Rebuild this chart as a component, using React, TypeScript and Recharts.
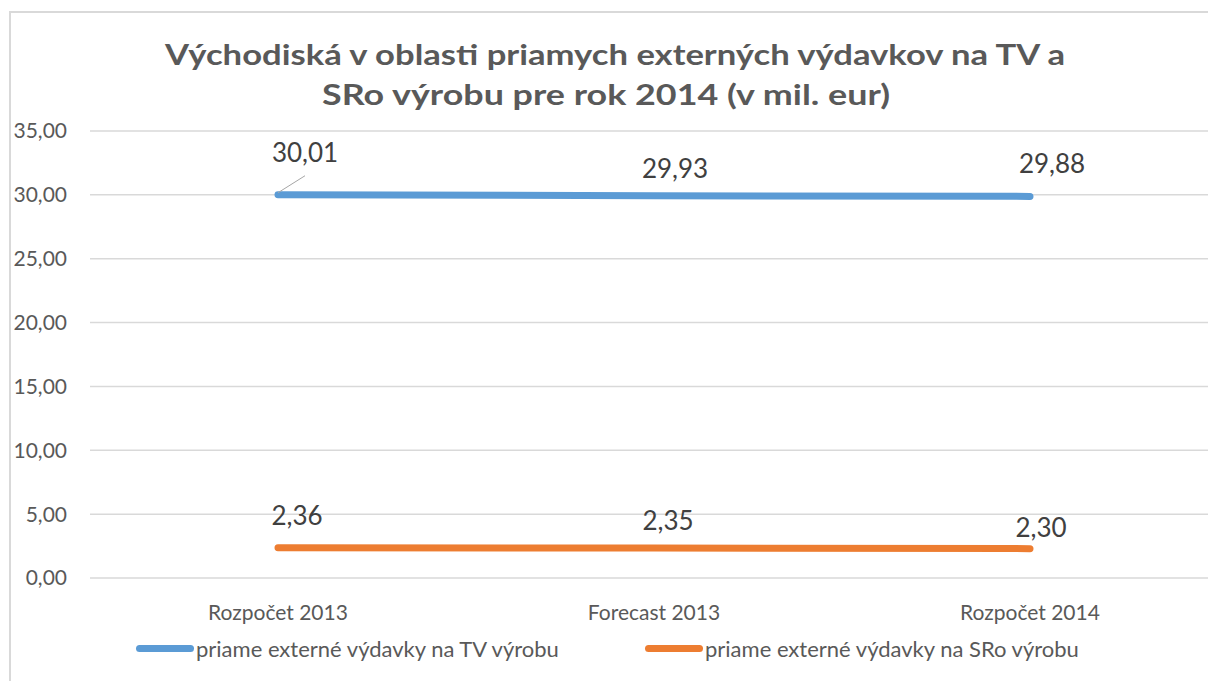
import React from "react";
import { LineChart, Line, XAxis, YAxis, CartesianGrid, Legend } from "recharts";

const categories = ["Rozpočet 2013", "Forecast 2013", "Rozpočet 2014"];
const tvValues = [30.01, 29.93, 29.88];
const sroValues = [2.36, 2.35, 2.3];
const yTicks = [0, 5, 10, 15, 20, 25, 30, 35];
const seriesNames = [
  "priame externé výdavky na TV výrobu",
  "priame externé výdavky na SRo výrobu",
];
const titleLines = [
  "Východiská v oblasti priamych externých výdavkov na TV a",
  "SRo výrobu pre rok 2014 (v mil. eur)",
];

const data = categories.map((c, i) => ({ name: c, tv: tvValues[i], sro: sroValues[i] }));

const BLUE = "#5B9BD5";
const ORANGE = "#ED7D31";
const FONT = "Lato, 'Open Sans', sans-serif";

// label placement offsets (style only), relative to each point
const tvLabelOffsets = [
  [27, -42],
  [21, -27],
  [22, -33],
];
const sroLabelOffsets = [
  [19, -32],
  [14, -27],
  [11, -21],
];

const fmt = (v: number) => v.toFixed(2).replace(".", ",");

const makeLabel = (offsets: number[][], leader: boolean) => (props: any) => {
  const { x, y, index, value } = props;
  const [dx, dy] = offsets[index] || [0, -20];
  const cx = x + dx;
  const cy = y + dy;
  return (
    <g key={`lbl-${index}`}>
      {leader && index === 0 ? (
        <line x1={x} y1={y - 2} x2={x + 27} y2={y - 19} stroke="#A6A6A6" strokeWidth={1} />
      ) : null}
      <text
        x={cx}
        y={cy + 9.4}
        textAnchor="middle"
        fontFamily={FONT}
        fontSize={26}
        fill="#404040"
      >
        {fmt(value)}
      </text>
    </g>
  );
};

const XTick = (props: any) => {
  const { x, y, payload } = props;
  return (
    <text x={x} y={y + 34} textAnchor="middle" fontFamily={FONT} fontSize={21} fill="#595959">
      {payload.value}
    </text>
  );
};

const legendLefts = [136, 645];
const legendColors = [BLUE, ORANGE];

const LegendContent = () => (
  <div style={{ position: "relative", width: 1208, height: 40 }}>
    {seriesNames.map((n, i) => (
      <div
        key={n}
        style={{
          position: "absolute",
          left: legendLefts[i],
          top: 0,
          height: 40,
          display: "flex",
          alignItems: "center",
          whiteSpace: "nowrap",
        }}
      >
        <span
          style={{
            display: "inline-block",
            width: 58,
            height: 7,
            borderRadius: 4,
            background: legendColors[i],
            marginRight: 2,
          }}
        />
        <span style={{ fontFamily: FONT, fontSize: 22, color: "#595959" }}>{n}</span>
      </div>
    ))}
  </div>
);

export default function App() {
  return (
    <div
      style={{
        position: "absolute",
        left: 0,
        top: 0,
        width: 1208,
        height: 681,
        overflow: "hidden",
        background: "#fff",
      }}
    >
      <div
        style={{
          position: "absolute",
          left: 9,
          top: 11,
          width: 1400,
          height: 900,
          border: "2px solid #D9D9D9",
          boxSizing: "border-box",
        }}
      />
      <div style={{ position: "absolute", left: 0, top: 0 }}>
        <LineChart
          width={1240}
          height={681}
          data={data}
          margin={{ top: 131, right: 22, left: 0, bottom: 0 }}
        >
          <CartesianGrid vertical={false} stroke="#D9D9D9" strokeWidth={1.5} />
          <XAxis
            dataKey="name"
            axisLine={false}
            tickLine={false}
            height={63}
            tick={<XTick />}
            interval={0}
            padding={{ left: 188, right: 188 }}
          />
          <YAxis
            width={90}
            domain={[0, 35]}
            ticks={yTicks}
            axisLine={false}
            tickLine={false}
            tickMargin={17}
            tickFormatter={fmt}
            tick={{ fontFamily: FONT, fontSize: 21, fill: "#595959" }}
          />
          <Legend
            verticalAlign="bottom"
            content={<LegendContent />}
            wrapperStyle={{ left: 0, top: 628, width: 1208, height: 40 }}
          />
          <Line
            type="linear"
            dataKey="tv"
            name={seriesNames[0]}
            stroke={BLUE}
            strokeWidth={7}
            strokeLinecap="round"
            dot={false}
            activeDot={false}
            isAnimationActive={false}
            label={makeLabel(tvLabelOffsets, true)}
          />
          <Line
            type="linear"
            dataKey="sro"
            name={seriesNames[1]}
            stroke={ORANGE}
            strokeWidth={7}
            strokeLinecap="round"
            dot={false}
            activeDot={false}
            isAnimationActive={false}
            label={makeLabel(sroLabelOffsets, false)}
          />
        </LineChart>
      </div>
      <svg
        width={1208}
        height={120}
        style={{ position: "absolute", left: 0, top: 0, pointerEvents: "none" }}
      >
        <text
          x={615}
          y={65}
          textAnchor="middle"
          fontFamily={FONT}
          fontWeight={700}
          fontSize={29}
          fill="#595959"
          textLength={900}
          lengthAdjust="spacingAndGlyphs"
        >
          {titleLines[0]}
        </text>
        <text
          x={606}
          y={105}
          textAnchor="middle"
          fontFamily={FONT}
          fontWeight={700}
          fontSize={29}
          fill="#595959"
          textLength={568}
          lengthAdjust="spacingAndGlyphs"
        >
          {titleLines[1]}
        </text>
      </svg>
    </div>
  );
}
